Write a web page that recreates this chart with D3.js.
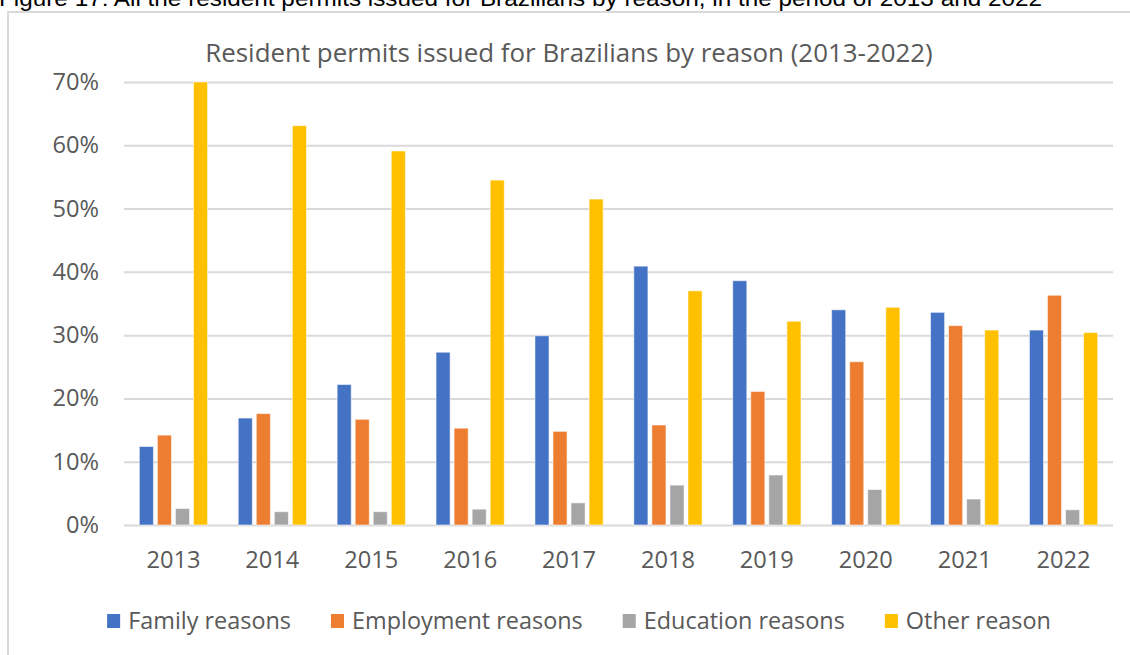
<!DOCTYPE html>
<html>
<head>
<meta charset="utf-8">
<script src="https://cdn.jsdelivr.net/npm/d3@7"></script>
<style>
  html, body { margin: 0; padding: 0; background: #fff; }
  svg { display: block; }
</style>
</head>
<body>
<svg id="chart" width="1130" height="655"></svg>
<script>
// Share of resident permits issued for Brazilians, by reason, 2013-2022
const years = ["2013","2014","2015","2016","2017","2018","2019","2020","2021","2022"];
const seriesNames = ["Family reasons","Employment reasons","Education reasons","Other reason"];
const family     = [0.124, 0.169, 0.222, 0.273, 0.299, 0.409, 0.386, 0.340, 0.336, 0.308];
const employment = [0.142, 0.176, 0.167, 0.153, 0.148, 0.158, 0.211, 0.258, 0.315, 0.363];
const education  = [0.026, 0.021, 0.021, 0.025, 0.035, 0.063, 0.079, 0.056, 0.041, 0.024];
const other      = [0.700, 0.631, 0.591, 0.545, 0.515, 0.370, 0.322, 0.344, 0.308, 0.304];
const yTicks = [0, 0.1, 0.2, 0.3, 0.4, 0.5, 0.6, 0.7];
const colors = ["#4472C4", "#ED7D31", "#A5A5A5", "#FFC000"];

const seriesValues = [family, employment, education, other];
const rows = years.map((y, i) => ({
  year: y,
  values: seriesNames.map((s, k) => ({ series: s, value: seriesValues[k][i] }))
}));

const svg = d3.select("#chart");
const textColor = "#595959";
const uiFont = "'Open Sans', 'Noto Sans', sans-serif";

// pick a font size so that a sample string spans the given width
function fitSize(sample, width, family) {
  const t = svg.append("text").attr("font-family", family).attr("font-size", 20).text(sample);
  const w = t.node().getComputedTextLength();
  t.remove();
  return 20 * width / w;
}
const axisSize = fitSize("2013", 54, uiFont);
const legendSize = fitSize("Employment reasons", 231, uiFont);

// document caption, partly clipped at the top edge
svg.append("text")
  .attr("x", -1).attr("y", 6)
  .attr("font-family", "'Liberation Sans', Arial, sans-serif")
  .attr("font-size", 22)
  .attr("fill", "#000")
  .attr("textLength", 1043).attr("lengthAdjust", "spacingAndGlyphs")
  .text("Figure 17:  All the resident permits issued for Brazilians by reason, in the period of 2013 and 2022");

// chart frame
svg.append("rect")
  .attr("x", 8).attr("y", 12)
  .attr("width", 1300).attr("height", 1000)
  .attr("fill", "none")
  .attr("stroke", "#d9d9d9")
  .attr("stroke-width", 2);

// scales
const plot = { left: 124, right: 1113, top: 82, bottom: 525 };
const x = d3.scaleBand().domain(years).range([plot.left, plot.right])
  .paddingInner(0.31).paddingOuter(0.155);
const xs = d3.scaleBand().domain(seriesNames).range([0, x.bandwidth()])
  .paddingInner(0.22).paddingOuter(0);
const y = d3.scaleLinear().domain([0, 0.7]).range([plot.bottom, plot.top]);
const color = d3.scaleOrdinal().domain(seriesNames).range(colors);

// horizontal gridlines + y labels
const yAxis = d3.axisLeft(y).tickValues(yTicks).tickFormat(d3.format(".0%"))
  .tickSize(-(plot.right - plot.left)).tickPadding(25);
const gy = svg.append("g").attr("transform", `translate(${plot.left},0)`).call(yAxis);
gy.select(".domain").remove();
gy.selectAll(".tick line").attr("stroke", "#d9d9d9").attr("stroke-width", 2);
gy.selectAll(".tick text")
  .attr("fill", textColor).attr("font-family", uiFont).attr("font-size", axisSize);

// x labels
const xAxis = d3.axisBottom(x).tickSize(0).tickPadding(26);
const gx = svg.append("g").attr("transform", `translate(0,${plot.bottom})`).call(xAxis);
gx.select(".domain").remove();
gx.selectAll(".tick text")
  .attr("fill", textColor).attr("font-family", uiFont).attr("font-size", axisSize);

// bars
const groups = svg.append("g").selectAll("g").data(rows).join("g")
  .attr("transform", d => `translate(${x(d.year)},0)`);
groups.selectAll("rect").data(d => d.values).join("rect")
  .attr("x", d => xs(d.series))
  .attr("y", d => y(d.value))
  .attr("width", xs.bandwidth())
  .attr("height", d => y(0) - y(d.value))
  .attr("fill", d => color(d.series))
  .attr("stroke", "#ffffff").attr("stroke-opacity", 0.55).attr("stroke-width", 1);

// title
svg.append("text")
  .attr("x", 569).attr("y", 62)
  .attr("text-anchor", "middle")
  .attr("font-family", uiFont)
  .attr("font-size", fitSize("Resident permits issued for Brazilians by reason (2013-2022)", 728, uiFont))
  .attr("fill", textColor)
  .text("Resident permits issued for Brazilians by reason (2013-2022)");

// legend
const legend = svg.append("g");
const items = legend.selectAll("g").data(seriesNames).join("g");
items.append("rect")
  .attr("width", 13).attr("height", 14)
  .attr("y", -7)
  .attr("fill", d => color(d));
items.append("text")
  .attr("x", 21).attr("dy", "0.35em")
  .attr("font-family", uiFont).attr("font-size", legendSize)
  .attr("fill", textColor)
  .text(d => d);
const widths = items.nodes().map(n => 21 + d3.select(n).select("text").node().getComputedTextLength());
const gap = 40;
const total = d3.sum(widths) + gap * (widths.length - 1);
let cx = 579 - total / 2;
items.attr("transform", (d, i) => {
  const t = `translate(${cx},621)`;
  cx += widths[i] + gap;
  return t;
});
</script>
</body>
</html>
